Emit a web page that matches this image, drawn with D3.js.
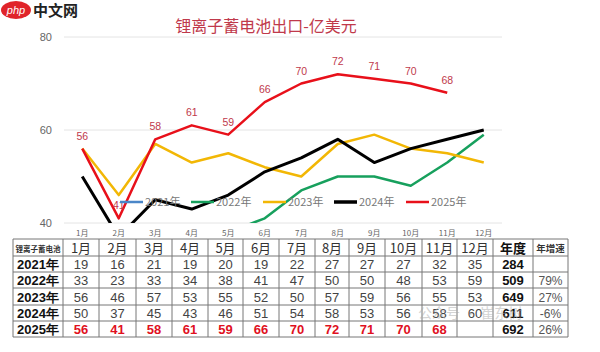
<!DOCTYPE html>
<html>
<head>
<meta charset="utf-8">
<script src="https://cdn.jsdelivr.net/npm/d3@7"></script>
<style>
  body { margin: 0; background: #fff; }
  svg { display: block; }
</style>
</head>
<body>
<div id="chart"></div>
<script>
const months = ["1月", "2月", "3月", "4月", "5月", "6月", "7月", "8月", "9月", "10月", "11月", "12月"];
const years = ["2021年", "2022年", "2023年", "2024年", "2025年"];
const v2021 = [19, 16, 21, 19, 20, 19, 22, 27, 27, 27, 32, 35];
const v2022 = [33, 23, 33, 34, 38, 41, 47, 50, 50, 48, 53, 59];
const v2023 = [56, 46, 57, 53, 55, 52, 50, 57, 59, 56, 55, 53];
const v2024 = [50, 37, 45, 43, 46, 51, 54, 58, 53, 56, 58, 60];
const v2025 = [56, 41, 58, 61, 59, 66, 70, 72, 71, 70, 68];
const annual = [284, 509, 649, 611, 692];
const growth = ["", "79%", "27%", "-6%", "26%"];
const yTicks = [40, 60, 80];
const colors = ["#4a86c8", "#17a05d", "#f2b705", "#000000", "#e8101a"];
const title = "锂离子蓄电池出口-亿美元";

const series = [v2021, v2022, v2023, v2024, v2025];
const W = 600, H = 352;
const cjk = "'Noto Sans CJK SC', sans-serif";
const arial = "'Liberation Sans', Arial, sans-serif";

const svg = d3.select("#chart").append("svg").attr("width", W).attr("height", H);

const x = d3.scaleBand().domain(months).range([64, 502]);
const y = d3.scaleLinear().domain([40, 80]).range([223, 37]);

// watermark logo top-left
svg.append("ellipse").attr("cx", 16).attr("cy", 10).attr("rx", 15).attr("ry", 9).attr("fill", "#e0242a");
svg.append("text").attr("x", 16).attr("y", 14).attr("text-anchor", "middle")
  .attr("font-family", arial).attr("font-style", "italic").attr("font-size", 11)
  .attr("fill", "#fff").text("php");
svg.append("text").attr("x", 33).attr("y", 16).attr("font-family", cjk)
  .attr("font-size", 15).attr("font-weight", "bold").attr("fill", "#222").text("中文网");

// title
svg.append("text").attr("x", 266).attr("y", 32).attr("text-anchor", "middle")
  .attr("font-family", cjk).attr("font-size", 16).attr("fill", "#c0394b").text(title);

// grid
svg.append("g").selectAll("line").data(yTicks).join("line")
  .attr("x1", 64).attr("x2", 502)
  .attr("y1", d => y(d)).attr("y2", d => y(d))
  .attr("stroke", "#e4e4e4").attr("stroke-width", 1);

svg.append("g").selectAll("text").data(yTicks).join("text")
  .attr("x", 52).attr("y", d => y(d) + 4).attr("text-anchor", "end")
  .attr("font-family", arial).attr("font-size", 11).attr("fill", "#666")
  .text(d => d);

// month labels under plot
svg.append("g").selectAll("text").data(months).join("text")
  .attr("x", d => x(d) + x.bandwidth() / 2).attr("y", 236).attr("text-anchor", "middle")
  .attr("font-family", cjk).attr("font-size", 8).attr("fill", "#666")
  .text(d => d);

svg.append("defs").append("clipPath").attr("id", "plot")
  .append("rect").attr("x", 40).attr("y", 20).attr("width", 480).attr("height", 203);

const line = d3.line()
  .x((d, i) => x(months[i]) + x.bandwidth() / 2)
  .y(d => y(d));

const widths = [2.5, 2.5, 2.5, 3, 2.5];
svg.append("g").attr("clip-path", "url(#plot)")
  .selectAll("path").data(series).join("path")
  .attr("d", line)
  .attr("fill", "none")
  .attr("stroke", (d, i) => colors[i])
  .attr("stroke-width", (d, i) => widths[i])
  .attr("stroke-linejoin", "round");

// data labels 2025
svg.append("g").selectAll("text").data(v2025).join("text")
  .attr("x", (d, i) => x(months[i]) + x.bandwidth() / 2)
  .attr("y", d => y(d) - 9)
  .attr("text-anchor", "middle")
  .attr("font-family", arial).attr("font-size", 10.5).attr("fill", "#c0394b")
  .text(d => d);

// legend
const legendX = [120, 191, 263, 334, 406];
const lg = svg.append("g").selectAll("g").data(years).join("g")
  .attr("transform", (d, i) => `translate(${legendX[i]},202)`);
lg.append("line").attr("x1", 0).attr("x2", 23).attr("y1", 0).attr("y2", 0)
  .attr("stroke", (d, i) => colors[i]).attr("stroke-width", (d, i) => i === 3 ? 3.5 : 2.5);
lg.append("text").attr("x", 25).attr("y", 4)
  .attr("font-family", cjk).attr("font-size", 11).attr("fill", "#777")
  .text(d => d);

// table
const colX = [13, 63, 99, 136, 172, 208, 243, 279, 315, 349, 385, 422, 457, 493, 533, 568];
const rowY = [239, 256, 272, 288, 305, 321, 337];
const tbl = svg.append("g");
tbl.selectAll(".h").data(rowY).join("line")
  .attr("x1", colX[0]).attr("x2", colX[colX.length - 1])
  .attr("y1", d => d).attr("y2", d => d)
  .attr("stroke", "#777").attr("stroke-width", 1);
tbl.selectAll(".v").data(colX).join("line")
  .attr("x1", d => d).attr("x2", d => d)
  .attr("y1", rowY[0]).attr("y2", rowY[rowY.length - 1])
  .attr("stroke", "#777").attr("stroke-width", 1);

const cx = i => (colX[i] + colX[i + 1]) / 2;
const cy = r => (rowY[r] + rowY[r + 1]) / 2 + 5;

tbl.append("text").attr("x", cx(0)).attr("y", cy(0) - 1).attr("text-anchor", "middle")
  .attr("font-family", cjk).attr("font-size", 7.5).attr("font-weight", "bold")
  .attr("fill", "#333").text("锂离子蓄电池");
months.forEach((m, i) => {
  tbl.append("text").attr("x", cx(i + 1)).attr("y", cy(0)).attr("text-anchor", "middle")
    .attr("font-family", cjk).attr("font-size", 13).attr("fill", "#333").text(m);
});
tbl.append("text").attr("x", cx(13)).attr("y", cy(0)).attr("text-anchor", "middle")
  .attr("font-family", cjk).attr("font-size", 13).attr("font-weight", "bold")
  .attr("fill", "#111").text("年度");
tbl.append("text").attr("x", cx(14)).attr("y", cy(0) - 1).attr("text-anchor", "middle")
  .attr("font-family", cjk).attr("font-size", 9.5).attr("font-weight", "bold")
  .attr("fill", "#333").text("年增速");

years.forEach((yr, r) => {
  tbl.append("text").attr("x", cx(0)).attr("y", cy(r + 1)).attr("text-anchor", "middle")
    .attr("font-family", arial).attr("font-size", 13).attr("font-weight", "bold")
    .attr("fill", "#111").text(yr);
  const red = r === 4;
  series[r].forEach((v, i) => {
    tbl.append("text").attr("x", cx(i + 1)).attr("y", cy(r + 1)).attr("text-anchor", "middle")
      .attr("font-family", arial).attr("font-size", 13)
      .attr("font-weight", red ? "bold" : "normal")
      .attr("fill", red ? "#e0101e" : "#444").text(v);
  });
  tbl.append("text").attr("x", cx(13)).attr("y", cy(r + 1)).attr("text-anchor", "middle")
    .attr("font-family", arial).attr("font-size", 13).attr("font-weight", "bold")
    .attr("fill", "#111").text(annual[r]);
  tbl.append("text").attr("x", cx(14)).attr("y", cy(r + 1)).attr("text-anchor", "middle")
    .attr("font-family", arial).attr("font-size", 12)
    .attr("fill", "#555").text(growth[r]);
});

// faint watermark bottom (overlaps the table as in the source)
svg.append("text").attr("x", 418).attr("y", 318)
  .attr("font-family", cjk).attr("font-size", 14).attr("fill", "#aaa").attr("opacity", 0.5)
  .text("公众号 · 崔东树");
</script>
</body>
</html>
